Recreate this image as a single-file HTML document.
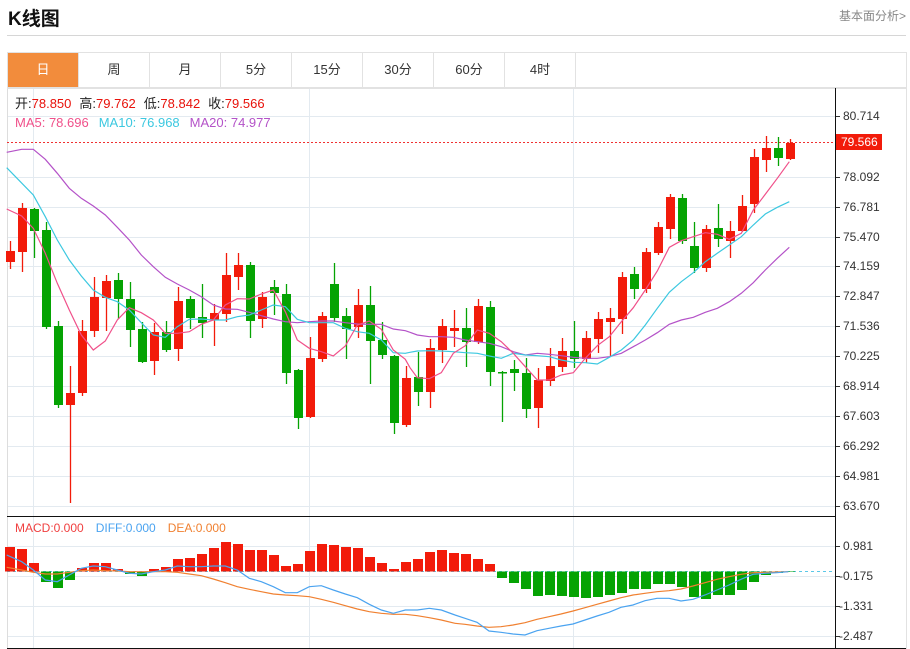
<!DOCTYPE html>
<html><head><meta charset="utf-8"><style>
body{margin:0;width:910px;height:649px;background:#fff;font-family:"Liberation Sans","Noto Sans CJK SC",sans-serif;overflow:hidden;position:relative}
.t{position:absolute;left:8px;top:4px;font-size:19px;font-weight:bold;color:#111}
.r{position:absolute;right:4px;top:7px;font-size:12px;color:#888}
.hl{position:absolute;left:7px;top:35px;width:899px;height:1px;background:#d6d6d6}
.tabs{position:absolute;left:7px;top:52px;width:898px;height:34px;border:1px solid #e2e2e2;display:flex}
.tabs div{width:70px;border-right:1px solid #e2e2e2;text-align:center;line-height:34px;font-size:13px;color:#333}
.tabs div.a{background:#f28c3c;color:#fff}
svg{position:absolute;left:0;top:0}
</style></head><body>
<div class="t">K线图</div><div class="r">基本面分析&gt;</div><div class="hl"></div>
<div class="tabs"><div class="a">日</div><div>周</div><div>月</div><div>5分</div><div>15分</div><div>30分</div><div>60分</div><div>4时</div></div>
<svg id="s" width="910" height="649" font-family="Liberation Sans, Noto Sans CJK SC, sans-serif" font-size="12">
<g id="g"></g>
<g font-size="13">
<text x="15" y="108"><tspan fill="#222">开:</tspan><tspan fill="#e8110a">78.850</tspan><tspan fill="#222" dx="8">高:</tspan><tspan fill="#e8110a">79.762</tspan><tspan fill="#222" dx="8">低:</tspan><tspan fill="#e8110a">78.842</tspan><tspan fill="#222" dx="8">收:</tspan><tspan fill="#e8110a">79.566</tspan></text>
<text x="15" y="127"><tspan fill="#f0508a">MA5: 78.696</tspan><tspan fill="#3cc8e0" dx="10">MA10: 76.968</tspan><tspan fill="#b452c8" dx="10">MA20: 74.977</tspan></text>
<text x="15" y="532" font-size="12"><tspan fill="#f04040">MACD:0.000</tspan><tspan fill="#4aa3f0" dx="12">DIFF:0.000</tspan><tspan fill="#f08030" dx="12">DEA:0.000</tspan></text>
</g>
<g fill="#333" font-size="12">
<text x="843" y="120">80.714</text><text x="843" y="181">78.092</text><text x="843" y="211">76.781</text><text x="843" y="241">75.470</text><text x="843" y="270">74.159</text><text x="843" y="300">72.847</text><text x="843" y="330">71.536</text><text x="843" y="360">70.225</text><text x="843" y="390">68.914</text><text x="843" y="420">67.603</text><text x="843" y="450">66.292</text><text x="843" y="480">64.981</text><text x="843" y="510">63.670</text>
<text x="843" y="550">0.981</text><text x="839" y="580">-0.175</text><text x="839" y="610">-1.331</text><text x="839" y="640">-2.487</text>
</g>
<rect x="836" y="134" width="46" height="16" fill="#f21b0a"/>
<text x="841" y="146" fill="#fff" font-size="12">79.566</text>
</svg>
<script>
var g=document.getElementById('g'),h='';
function L(x1,y1,x2,y2,c,w,d){h+='<line x1="'+x1+'" y1="'+y1+'" x2="'+x2+'" y2="'+y2+'" stroke="'+c+'" stroke-width="'+(w||1)+'"'+(d?' stroke-dasharray="'+d+'"':'')+'/>';}
var gy=[116,177,207,237,266,296,326,356,386,416,446,476,506,546,576,606,636];
gy.forEach(function(y){L(7,y+.5,835,y+.5,'#e3eaf0');L(835,y+.5,840,y+.5,'#333');});
[33,309,573].forEach(function(x){L(x+.5,88,x+.5,649,'#e3eaf0');});
L(7.5,88,7.5,649,'#ddd');L(7,88.5,906,88.5,'#e2e2e2');L(906.5,88,906.5,649,'#e2e2e2');
L(7,516.5,835,516.5,'#111');L(7,648.5,906,648.5,'#111');L(835.5,88,835.5,649,'#111');
L(7,142.5,835,142.5,'#f03030',1,'2,2');
L(7,571.5,835,571.5,'#5bc8e8',1,'3,3');
var C=[['r',251,262,241,269],['r',208,252,203,272],['g',209,231,208,258],['g',230,327,222,329],['g',326,405,321,408],['r',393,405,366,503],['r',331,393,320,396],['r',297,331,277,337],['r',281,298,275,331],['g',280,299,273,319],['g',299,330,282,347],['g',329,362,322,363],['r',332,361,323,375],['g',332,350,321,352],['r',301,349,287,361],['g',299,318,296,329],['g',317,323,284,338],['r',313,320,304,346],['r',275,314,253,322],['r',265,277,253,290],['g',265,321,262,338],['r',297,319,292,328],['g',287,293,280,315],['g',294,373,284,384],['g',370,418,369,429],['r',358,417,337,418],['r',316,359,312,362],['g',284,318,263,322],['g',316,329,308,359],['r',305,327,289,338],['g',305,341,286,384],['g',340,355,322,359],['g',356,423,355,434],['r',378,425,366,427],['g',377,392,352,406],['r',348,392,339,408],['r',326,350,319,363],['r',328,331,310,347],['g',328,342,308,367],['r',306,342,299,344],['g',307,372,301,386],['g',372,373,371,422],['g',369,373,360,391],['g',373,409,358,418],['r',380,408,368,428],['r',366,381,348,386],['r',351,367,338,372],['g',351,359,321,368],['r',338,359,331,363],['r',319,339,312,353],['r',318,322,308,357],['r',277,319,272,334],['g',274,289,267,299],['r',252,289,248,293],['r',227,253,222,255],['r',197,229,194,239],['g',198,241,194,244],['g',246,268,222,273],['r',229,268,225,272],['g',228,239,204,247],['r',231,241,221,258],['r',206,231,195,232],['r',157,204,149,213],['r',148,160,136,172],['g',148,158,137,166],['r',143,159,139,160]];
C.forEach(function(c,i){var x=10+12*i,col=c[0]=='r'?'#f21b0a':'#05a303';L(x+.5,c[3],x+.5,c[4],col,1.3);
h+='<rect x="'+(x-4)+'" y="'+c[1]+'" width="9" height="'+Math.max(1.5,c[2]-c[1])+'" fill="'+col+'"/>';});
var M=[547,549,563,582,588,580,568,563,563,569,574,576,569,567,559,558,554,548,542,544,550,550,555,566,564,551,544,545,547,548,557,563,569,562,559,552,550,553,554,559,564,578,583,589,596,595,596,597,598,597,595,593,589,589,584,584,587,597,599,595,595,590,582,575,573,572];
M.forEach(function(y,i){var x=10+12*i,z=571.5,col=y<z?'#f21b0a':'#05a303';h+='<rect x="'+(x-5)+'" y="'+Math.min(y,z)+'" width="10" height="'+Math.abs(y-z)+'" fill="'+col+'"/>';});
function P(a,ox,oy,col){var p=[];for(var i=0;i<a.length;i+=2)p.push((a[i]/3+ox).toFixed(1)+','+(a[i+1]/3+oy).toFixed(1));h+='<polyline points="'+p.join(' ')+'" fill="none" stroke="'+col+'" stroke-width="1.2"/>';}
var ma5a=[20,207,65,228,100,265,136,340,172,430,208,510,244,585,280,630,316,603,352,540,388,503,424,518,460,540,496,580,532,580,568,575,604,553,640,540,676,495,712,476,748,477,784,462,820,450,856,515,892,600,928,625,964,635,1000,648,1036,618,1072,555,1108,543,1144,568,1180,630,1216,658,1230,683];
var ma5b=[0,683,22,713,58,716,94,698,130,640,166,617,202,570,238,580,274,605,310,640,346,680,382,720,418,720,454,705,490,698,526,655,562,617,598,590,634,545,670,503,706,450,742,393,778,322,814,302,850,290,886,278,922,283,958,298,994,280,1030,210,1066,163,1102,115,1138,65];
var ma10a=[20,83,100,165,136,230,172,300,208,360,244,408,280,450,316,472,352,485,388,510,424,548,460,585,496,592,532,560,568,538,604,537,640,540,676,540,712,530,748,525,784,510,820,495,856,500,892,538,928,548,964,548,1000,548,1036,565,1072,575,1108,580,1144,600,1180,638,1216,640,1230,637];
var ma10b=[0,637,22,633,58,632,94,633,130,635,166,638,202,640,238,648,274,655,310,640,346,645,382,647,418,650,454,660,490,667,526,668,562,672,598,652,634,630,670,600,706,555,742,505,778,457,814,425,850,398,886,365,922,340,958,315,994,290,1030,255,1066,222,1102,202,1138,185];
var ma20a=[20,37,65,28,100,28,136,58,172,100,208,145,244,175,280,198,316,225,352,262,388,300,424,345,460,380,496,412,532,432,568,450,604,470,640,495,676,507,712,508,748,517,784,527,820,537,856,545,892,548,928,545,964,543,1000,543,1036,548,1072,552,1108,553,1144,553,1180,567,1216,572,1230,577];
var ma20b=[0,577,22,585,58,590,94,590,130,592,166,600,202,605,238,610,274,620,310,635,346,645,382,640,418,643,454,647,490,652,526,655,562,655,598,650,634,640,670,620,706,600,742,578,778,553,814,540,850,532,886,517,922,505,958,485,994,460,1030,428,1066,390,1102,355,1138,322];
P(ma20a,0,140,'#b452c8');P(ma20b,410,140,'#b452c8');
P(ma10a,0,140,'#3cc8e0');P(ma10b,410,140,'#3cc8e0');
P(ma5a,0,140,'#f0508a');P(ma5b,410,140,'#f0508a');
var da=[20,157,65,165,100,172,136,177,172,177,208,172,244,167,280,165,316,167,352,168,388,170,424,170,460,170,496,170,532,172,568,177,604,182,640,192,676,203,712,215,748,223,784,230,820,237,856,240,892,242,928,245,964,253,1000,262,1036,272,1072,282,1108,290,1144,295,1180,298,1216,298,1252,302,1288,308,1324,315,1365,325];
var db=[0,325,30,328,66,333,102,337,138,335,174,330,210,323,246,313,282,305,318,297,354,288,390,278,426,268,462,258,498,248,534,240,570,235,606,230,642,227,678,222,714,213,750,203,786,193,822,185,858,178,894,173,930,172,966,171,1000,170];
var fa=[20,120,65,140,100,165,136,195,172,200,208,180,244,160,280,153,316,155,352,165,388,175,424,177,460,170,496,165,532,153,568,155,604,155,640,153,676,153,712,165,748,190,784,200,820,215,856,233,892,233,928,215,964,212,1000,225,1036,237,1072,248,1108,268,1144,285,1180,295,1216,285,1252,285,1288,280,1324,285,1365,300];
var fb=[0,300,30,310,66,322,102,348,138,352,174,357,210,360,246,347,282,340,318,333,354,327,390,315,426,303,462,292,498,277,534,270,570,257,606,250,642,250,678,258,714,253,750,240,786,225,822,210,858,193,894,178,930,175,966,173,1000,170];
P(da,0,515,'#f08030');P(db,455,515,'#f08030');P(fa,0,515,'#4aa3f0');P(fb,455,515,'#4aa3f0');
g.innerHTML=h;
</script>
</body></html>
